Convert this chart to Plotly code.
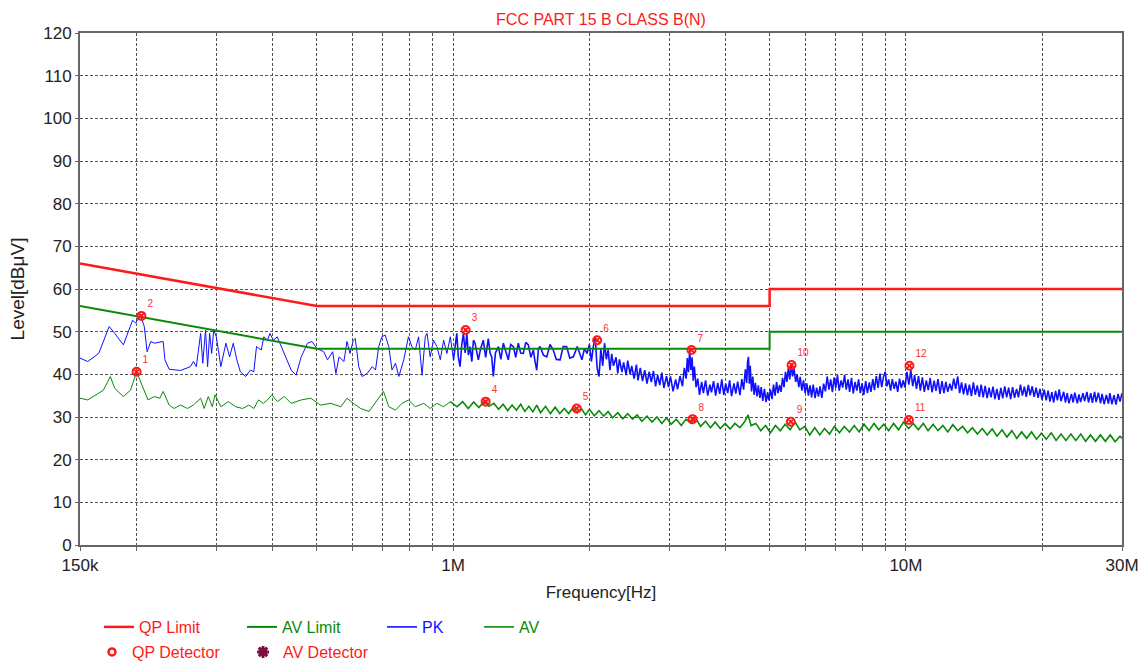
import plotly.graph_objects as go

# ---------------- data (frequency in MHz, level in dBuV) ----------------
qp_limit_freq = [0.15, 0.5, 5.0, 5.0, 30.0]
qp_limit_level = [66, 56, 56, 60, 60]
av_limit_freq = [0.15, 0.5, 5.0, 5.0, 30.0]
av_limit_level = [56, 46, 46, 50, 50]

# PK trace, 150 kHz .. 1 MHz
pk_freq_low = [
    0.150, 0.156, 0.165, 0.174, 0.179, 0.187, 0.196, 0.199, 0.204, 0.208, 0.211, 0.215, 0.219, 0.229,
    0.231, 0.236, 0.250, 0.263, 0.267, 0.271, 0.277, 0.280, 0.284, 0.287, 0.290, 0.293, 0.296, 0.300,
    0.307, 0.315, 0.321, 0.327, 0.333, 0.339, 0.348, 0.357, 0.363, 0.368, 0.377, 0.382, 0.389, 0.394,
    0.401, 0.409, 0.416, 0.439, 0.450, 0.462, 0.477, 0.488, 0.500, 0.518, 0.528, 0.542, 0.551, 0.560,
    0.574, 0.583, 0.592, 0.602, 0.608, 0.619, 0.630, 0.646, 0.663, 0.674, 0.685, 0.696, 0.708, 0.721,
    0.733, 0.746, 0.759, 0.778, 0.797, 0.811, 0.825, 0.839, 0.854, 0.868, 0.876, 0.890, 0.905, 0.921,
    0.937, 0.953, 0.969, 0.986, 1.002,
]
pk_level_low = [
    43.8, 43.0, 44.9, 51.2, 49.6, 46.9, 52.7, 52.0, 53.9, 51.2, 45.3, 47.7, 47.3, 47.7,
    43.4, 41.2, 40.9, 41.8, 43.0, 41.8, 49.6, 42.6, 50.4, 41.8, 49.6, 44.9, 50.4, 48.8,
    41.8, 47.3, 44.1, 47.3, 43.4, 40.6, 39.5, 41.0, 40.6, 46.5, 45.7, 48.8, 48.0, 49.6,
    48.0, 48.8, 46.9, 41.0, 39.8, 44.1, 47.3, 47.7, 46.1, 45.3, 43.4, 45.3, 40.2, 44.1,
    43.0, 47.7, 44.9, 48.0, 48.4, 41.8, 39.5, 40.2, 41.8, 41.0, 46.5, 48.8, 49.2, 46.5,
    41.0, 42.6, 39.5, 43.4, 48.8, 46.5, 45.7, 48.8, 39.8, 48.8, 49.6, 44.1, 48.0, 46.5,
    43.4, 48.0, 44.9, 48.8, 43.4,
]

# PK trace, 1 MHz .. 30 MHz (dense band)
pk_freq_high = [
    1.002, 1.019, 1.027, 1.036, 1.045, 1.054, 1.063, 1.072, 1.081, 1.090, 1.100, 1.109, 1.118, 1.127,
    1.137, 1.150, 1.166, 1.180, 1.196, 1.207, 1.217, 1.227, 1.240, 1.259, 1.275, 1.291, 1.308, 1.324,
    1.340, 1.359, 1.375, 1.393, 1.410, 1.429, 1.447, 1.466, 1.485, 1.504, 1.517, 1.530, 1.543, 1.556,
    1.583, 1.610, 1.637, 1.664, 1.690, 1.723, 1.750, 1.781, 1.810, 1.843, 1.880, 1.925, 1.950, 1.976,
    2.00, 2.02, 2.04, 2.06, 2.08, 2.10, 2.12, 2.14, 2.16, 2.18, 2.20, 2.22, 2.24, 2.26, 2.29, 2.31,
    2.33, 2.36, 2.38, 2.41, 2.43, 2.46, 2.48, 2.51, 2.54, 2.56, 2.59, 2.62, 2.65, 2.68, 2.71, 2.74,
    2.77, 2.80, 2.83, 2.86, 2.89, 2.92, 2.96, 2.99,
    3.02, 3.06, 3.10, 3.13, 3.17, 3.21, 3.24, 3.27, 3.29, 3.31, 3.33, 3.35, 3.37, 3.39, 3.41, 3.44,
    3.47, 3.50, 3.54, 3.57, 3.61, 3.65, 3.69, 3.72, 3.76, 3.80, 3.84, 3.88, 3.92, 3.96, 4.00, 4.04,
    4.08, 4.12, 4.17, 4.21, 4.25, 4.30, 4.34, 4.38,
    4.42, 4.45, 4.47, 4.49, 4.51, 4.53, 4.56, 4.59, 4.62, 4.65, 4.69, 4.72, 4.76, 4.79, 4.83, 4.87,
    4.91, 4.95, 4.98,
    5.02, 5.06, 5.10, 5.14, 5.18, 5.22, 5.26, 5.30, 5.34, 5.38, 5.42, 5.46, 5.50, 5.54, 5.58, 5.62,
    5.66, 5.71, 5.75, 5.80, 5.84, 5.89, 5.94, 5.99, 6.04, 6.09, 6.14, 6.19, 6.24, 6.30, 6.35, 6.41,
    6.46, 6.52, 6.58,
    6.64, 6.70, 6.76, 6.82, 6.88, 6.94, 7.00, 7.06, 7.12, 7.19, 7.25, 7.32, 7.38, 7.45, 7.51, 7.58,
    7.65, 7.72, 7.79, 7.86, 7.93, 8.00, 8.07, 8.15, 8.22, 8.30, 8.37, 8.45, 8.52, 8.60, 8.68, 8.76,
    8.84, 8.92, 9.00, 9.08, 9.16, 9.25, 9.33, 9.42, 9.50, 9.59, 9.68, 9.77, 9.86, 9.95,
    10.05, 10.15, 10.25, 10.35, 10.45, 10.55, 10.66, 10.76, 10.87, 10.98, 11.09, 11.20, 11.31, 11.42,
    11.54, 11.65, 11.77, 11.89, 12.01, 12.13, 12.25, 12.37, 12.50, 12.62, 12.75, 12.88, 13.01, 13.14,
    13.27, 13.40, 13.54, 13.67, 13.81, 13.95, 14.09, 14.23, 14.37, 14.52, 14.66, 14.81, 14.96, 15.11,
    15.26, 15.41, 15.57, 15.72, 15.88, 16.04, 16.20, 16.36, 16.53, 16.69, 16.86, 17.03, 17.20, 17.37,
    17.55, 17.72, 17.90, 18.08, 18.26, 18.44, 18.63, 18.81, 19.00, 19.19, 19.38, 19.58, 19.77, 19.97,
    20.2, 20.4, 20.6, 20.8, 21.0, 21.2, 21.4, 21.6, 21.8, 22.0, 22.3, 22.5, 22.7, 22.9, 23.2, 23.4,
    23.6, 23.9, 24.1, 24.3, 24.6, 24.8, 25.1, 25.3, 25.6, 25.8, 26.1, 26.3, 26.6, 26.9, 27.1, 27.4,
    27.7, 28.0, 28.2, 28.5, 28.8, 29.1, 29.4, 29.7, 30.0,
]
pk_level_high = [
    43.4, 49.6, 44.0, 41.8, 47.0, 49.6, 45.0, 49.6, 44.5, 46.5, 43.0, 48.0, 47.3, 45.0,
    43.4, 46.0, 48.0, 44.0, 48.4, 45.0, 44.1, 39.5, 45.0, 46.5, 43.5, 47.3, 45.0, 43.4,
    47.0, 46.5, 44.0, 47.3, 45.0, 44.9, 47.5, 46.9, 44.0, 45.7, 43.0, 41.0, 46.0, 46.5,
    44.5, 44.1, 47.0, 45.7, 43.5, 43.4, 46.5, 46.5, 43.8, 44.1, 46.5, 43.4, 46.0, 44.9,
    47.0, 43.0, 46.5, 48.8, 41.5, 39.5, 46.0, 42.0, 47.3, 43.5, 45.8, 41.0, 44.8, 42.0, 44.0, 40.2,
    43.5, 40.5, 42.8, 39.8, 43.2, 40.0, 42.0, 39.0, 42.3, 38.6, 41.5, 38.4, 41.0, 37.8, 40.6, 38.2,
    40.8, 37.2, 39.8, 37.5, 40.4, 36.8, 39.6, 37.0,
    39.5, 36.0, 38.8, 36.5, 39.6, 37.2, 41.5, 39.0, 43.8, 40.5, 45.7, 41.0, 44.0, 38.5, 41.8, 37.0,
    39.0, 35.2, 38.2, 35.6, 38.6, 35.0, 37.6, 35.8, 38.4, 35.0, 38.0, 35.4, 38.8, 35.2, 37.8, 35.6,
    38.6, 34.9, 37.9, 35.5, 38.3, 35.1, 38.9, 36.4,
    41.2, 38.0, 43.0, 44.1, 37.8, 42.0, 36.0, 39.5, 35.2, 38.0, 34.8, 37.4, 34.5, 37.0, 33.8, 36.6,
    33.5, 35.8, 33.9,
    36.5, 34.2, 37.6, 35.0, 38.2, 35.6, 37.5, 35.9, 39.2, 37.0, 40.6, 38.2, 41.5, 38.8, 42.6, 39.5,
    41.2, 38.2, 40.0, 37.0, 39.4, 36.2, 38.6, 35.6, 37.9, 35.0, 37.4, 34.6, 37.6, 34.4, 36.9, 34.8,
    37.2, 34.5, 37.8,
    36.0, 39.5, 36.4, 38.8, 35.8, 39.3, 36.8, 39.8, 36.2, 38.6, 36.9, 39.9, 36.4, 38.8, 35.9, 39.2,
    35.5, 38.2, 36.2, 38.8, 35.6, 37.9, 35.2, 38.4, 35.6, 38.1, 35.9, 38.9, 36.3, 39.6, 36.8, 40.2,
    37.0, 39.4, 40.6, 37.2, 38.8, 36.2, 38.9, 36.6, 38.3, 35.9, 39.0, 36.8, 38.6, 36.9,
    40.6, 37.6, 41.0, 37.2, 39.8, 36.6, 39.6, 36.2, 39.3, 35.9, 38.6, 36.3, 39.1, 35.8,
    38.5, 36.1, 38.9, 35.4, 38.4, 35.6, 38.2, 35.9, 37.8, 36.2, 39.0, 36.6, 39.5, 35.6,
    38.1, 35.3, 37.9, 35.1, 37.6, 34.9, 38.1, 35.2, 37.4, 34.7, 37.6, 34.6, 37.3, 34.4,
    36.9, 34.6, 37.1, 34.2, 36.6, 34.0, 36.8, 34.4, 37.2, 34.6, 36.9, 34.2, 37.0, 34.5,
    36.6, 34.6, 37.6, 35.0, 37.1, 34.7, 37.5, 35.1, 37.2, 34.7, 36.9, 34.5, 36.6, 34.1,
    36.4, 33.9, 36.2, 33.6, 35.8, 33.4, 36.1, 33.9, 36.5, 33.7, 35.9, 33.4, 35.6, 33.2, 35.4, 33.4,
    35.7, 33.2, 35.3, 33.5, 35.6, 33.7, 35.9, 33.4, 35.6, 33.3, 35.9, 33.5, 35.7, 33.2, 35.4, 33.0,
    35.2, 33.1, 35.6, 33.0, 35.1, 32.9, 35.4, 33.6, 35.6,
]

# AV trace, 150 kHz .. 1 MHz
av_freq_low = [
    0.150, 0.156, 0.165, 0.169, 0.175, 0.179, 0.187, 0.194, 0.200, 0.206, 0.212, 0.219, 0.225, 0.229,
    0.236, 0.242, 0.250, 0.259, 0.267, 0.277, 0.282, 0.288, 0.294, 0.298, 0.307, 0.319, 0.331, 0.343,
    0.354, 0.363, 0.372, 0.381, 0.389, 0.398, 0.409, 0.424, 0.439, 0.462, 0.485, 0.509, 0.537, 0.565,
    0.583, 0.602, 0.625, 0.652, 0.680, 0.702, 0.721, 0.746, 0.771, 0.797, 0.825, 0.861, 0.890, 0.921,
    0.953, 0.986,
]
av_level_low = [
    34.4, 34.0, 35.6, 36.3, 39.5, 36.7, 34.8, 36.3, 40.6, 37.1, 34.0, 34.8, 34.4, 36.0,
    32.8, 32.0, 32.8, 32.0, 32.8, 34.4, 32.0, 34.8, 32.4, 35.2, 32.4, 33.6, 32.4, 32.0,
    32.8, 32.0, 34.0, 33.2, 34.0, 35.2, 33.6, 34.8, 33.2, 34.0, 34.4, 32.8, 33.2, 32.4,
    34.4, 33.2, 32.0, 31.3, 34.0, 36.0, 32.4, 31.6, 33.2, 34.0, 32.4, 33.2, 32.0, 33.2,
    32.4, 33.6,
]

# AV trace, 1 MHz .. 30 MHz
av_freq_high = [
    0.986, 1.02, 1.05, 1.08, 1.11, 1.14, 1.17, 1.20, 1.23, 1.26, 1.29, 1.32, 1.35, 1.38, 1.41, 1.44,
    1.47, 1.50, 1.53, 1.56, 1.60, 1.64, 1.68, 1.72, 1.76, 1.80, 1.84, 1.88, 1.92, 1.96, 2.00, 2.05,
    2.10, 2.15, 2.20, 2.25, 2.31, 2.37, 2.43, 2.49, 2.55, 2.61, 2.68, 2.75, 2.82, 2.89, 2.96, 3.03,
    3.11, 3.19, 3.27, 3.35, 3.43, 3.52, 3.61, 3.70, 3.79, 3.89, 3.99, 4.09, 4.19, 4.30, 4.41, 4.48,
    4.55, 4.66, 4.78, 4.90, 5.02, 5.15, 5.28, 5.41, 5.55, 5.69, 5.83, 5.98, 6.13, 6.29, 6.45, 6.61,
    6.78, 6.95, 7.13, 7.31, 7.50, 7.69, 7.88, 8.08, 8.29, 8.50, 8.71, 8.93, 9.16, 9.39, 9.63, 9.88,
    10.13, 10.38, 10.65, 10.92, 11.19, 11.48, 11.77, 12.07, 12.37, 12.69, 13.01, 13.34, 13.68, 14.02,
    14.38, 14.74, 15.12, 15.50, 15.89, 16.30, 16.71, 17.13, 17.57, 18.01, 18.47, 18.94, 19.42, 19.91,
    20.41, 20.93, 21.46, 22.00, 22.56, 23.13, 23.72, 24.32, 24.93, 25.56, 26.21, 26.88, 27.56, 28.26,
    28.97, 29.70, 30.00,
]
av_level_high = [
    33.6, 32.4, 33.6, 32.0, 33.5, 32.2, 33.6, 32.5, 33.2, 31.8, 33.0, 31.5, 32.8, 31.6, 33.0, 31.3,
    32.5, 31.2, 32.8, 31.0, 32.5, 30.8, 32.3, 30.8, 32.0, 30.8, 32.2, 31.0, 32.0, 30.5, 31.8, 30.3,
    31.5, 30.2, 31.3, 29.8, 31.0, 29.6, 30.8, 29.5, 30.5, 29.0, 30.2, 28.8, 30.0, 28.5, 29.8, 28.3,
    29.5, 28.0, 29.5, 28.5, 29.8, 27.8, 29.0, 27.5, 28.8, 27.3, 28.5, 27.2, 28.5, 27.5, 29.0, 30.5,
    28.0, 28.5, 26.8, 28.0, 26.3, 28.0, 26.8, 28.3, 27.0, 28.8, 27.0, 27.8, 25.8, 27.5, 25.8, 27.3,
    26.0, 27.8, 26.3, 27.8, 26.5, 28.0, 26.5, 28.3, 26.8, 28.5, 27.0, 28.3, 26.8, 28.5, 27.0, 28.8,
    27.3, 28.5, 27.0, 28.5, 26.8, 28.3, 26.8, 28.0, 26.5, 28.2, 26.8, 27.8, 26.3, 27.5,
    26.0, 27.3, 25.8, 27.2, 25.5, 27.0, 25.3, 26.8, 25.0, 26.5, 25.0, 26.5, 24.8, 26.2,
    24.8, 26.3, 24.5, 26.0, 24.5, 26.0, 24.5, 26.0, 24.3, 25.8, 24.3, 25.8, 24.3, 25.8,
    24.2, 25.5, 25.0,
]

marker_freq = [0.200, 0.205, 1.066, 1.18, 1.875, 2.08, 3.36, 3.38, 5.57, 5.59, 10.15, 10.18]
marker_level = [40.6, 53.7, 50.4, 33.6, 32.0, 48.0, 45.7, 29.5, 28.9, 42.2, 29.3, 42.0]
marker_labels = ["1", "2", "3", "4", "5", "6", "7", "8", "9", "10", "11", "12"]

x_tick_vals = [0.15, 1, 10, 30]
x_tick_text = ["150k", "1M", "10M", "30M"]
x_minor_vals = [0.2, 0.3, 0.4, 0.5, 0.6, 0.7, 0.8, 0.9, 2, 3, 4, 5, 6, 7, 8, 9, 20]

FONT = "Liberation Sans, Arial, sans-serif"
RED = "#ff1a1a"
GREEN = "#0a8a0a"
BLUE = "#1010ff"
INK = "#222222"
W, H = 1142, 664

fig = go.Figure()

fig.add_trace(go.Scatter(x=pk_freq_low, y=pk_level_low, mode="lines", name="PK",
                         legendgroup="pk", showlegend=False, line=dict(color=BLUE, width=1)))
fig.add_trace(go.Scatter(x=pk_freq_high, y=pk_level_high, mode="lines", name="PK",
                         legendgroup="pk", line=dict(color=BLUE, width=1.6), legend="legend3"))
fig.add_trace(go.Scatter(x=av_freq_low, y=av_level_low, mode="lines", name="AV",
                         legendgroup="av", showlegend=False, line=dict(color=GREEN, width=1)))
fig.add_trace(go.Scatter(x=av_freq_high, y=av_level_high, mode="lines", name="AV",
                         legendgroup="av", line=dict(color=GREEN, width=1.6), legend="legend4"))
fig.add_trace(go.Scatter(x=qp_limit_freq, y=qp_limit_level, mode="lines", name="QP Limit",
                         line=dict(color=RED, width=2.5), legend="legend"))
fig.add_trace(go.Scatter(x=av_limit_freq, y=av_limit_level, mode="lines", name="AV Limit",
                         line=dict(color=GREEN, width=2), legend="legend2"))
fig.add_trace(go.Scatter(x=[None], y=[None], mode="markers", name="QP Detector",
                         marker=dict(symbol="circle-open", size=7, color=RED, line=dict(width=2.5)),
                         legend="legend5"))
fig.add_trace(go.Scatter(x=[None], y=[None], mode="markers", name="AV Detector",
                         marker=dict(symbol="asterisk-open", size=10, color="#7a1040",
                                     line=dict(width=3, color="#7a1040")),
                         legend="legend6"))
fig.add_trace(go.Scatter(x=marker_freq, y=marker_level, mode="markers+text", text=marker_labels,
                         textposition="top right", showlegend=False,
                         textfont=dict(color="#ff3030", size=10, family=FONT),
                         marker=dict(symbol="circle-x-open", size=8, color=RED, line=dict(width=2))))


def legend_cfg(px, py, color):
    return dict(x=px / W, y=1 - py / H, xref="container", yref="container",
                xanchor="left", yanchor="middle",
                bgcolor="rgba(0,0,0,0)", orientation="h",
                font=dict(family=FONT, size=16, color=color))


fig.update_layout(
    width=W, height=H,
    margin=dict(l=80, r=20, t=33, b=119, autoexpand=False),
    paper_bgcolor="white", plot_bgcolor="white",
    font=dict(family=FONT, size=16, color=INK),
    title=dict(text="FCC PART 15 B CLASS B(N)", x=0.5, xref="paper", xanchor="center",
               y=1 - 19 / H, yanchor="middle", font=dict(color=RED, size=16, family=FONT)),
    legend=legend_cfg(99, 627, RED),
    legend2=legend_cfg(242, 627, GREEN),
    legend3=legend_cfg(382, 627, BLUE),
    legend4=legend_cfg(479, 627, GREEN),
    legend5=legend_cfg(92, 652, RED),
    legend6=legend_cfg(243, 652, RED),
    xaxis=dict(type="log", range=[-0.8239, 1.4771], tickvals=x_tick_vals, ticktext=x_tick_text,
               showgrid=True, gridcolor="#555555", griddash="3px,2px", gridwidth=1,
               showline=True, linecolor="#666666", linewidth=2, mirror=True,
               ticks="outside", ticklen=4, tickcolor="#666666",
               minor=dict(tickvals=x_minor_vals, showgrid=True, gridcolor="#555555",
                          griddash="3px,2px", gridwidth=1, ticks="outside", ticklen=4,
                          tickcolor="#666666"),
               tickfont=dict(size=17, color=INK),
               title=dict(text="Frequency[Hz]", font=dict(size=17, color=INK), standoff=12),
               zeroline=False),
    yaxis=dict(range=[0, 120], dtick=10, tick0=0,
               showgrid=True, gridcolor="#555555", griddash="3px,2px", gridwidth=1,
               showline=True, linecolor="#666666", linewidth=2, mirror=True,
               ticks="outside", ticklen=3, tickcolor="#666666",
               tickfont=dict(size=17, color=INK),
               title=dict(text="Level[dBμV]", font=dict(size=19, color=INK), standoff=14),
               zeroline=False),
)

fig.write_html("out.html", config={"displayModeBar": False},
               post_script="document.body.style.margin='0';")
